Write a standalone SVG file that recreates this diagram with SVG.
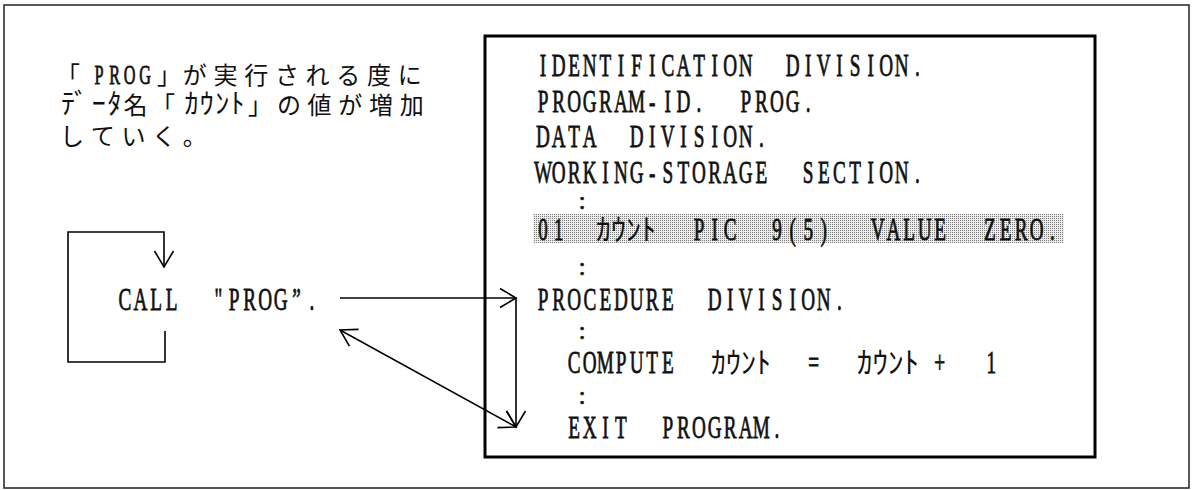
<svg xmlns="http://www.w3.org/2000/svg" width="1192" height="490" viewBox="0 0 1192 490">
  <style>
    .jp { font-family: "Noto Sans CJK JP", sans-serif; font-size: 24px; fill: #111; }
    .kana { font-family: "Noto Sans CJK JP", sans-serif; font-size: 28px; fill: #111; }
    .ck { font-family: "Noto Sans CJK JP", sans-serif; font-size: 30px; fill: #111; }
    .code { font-family: "Liberation Serif", serif; font-size: 32px; fill: #111; stroke: #111; stroke-width: 0.8; text-anchor: middle; }
    .lat { font-family: "Liberation Serif", serif; font-size: 27px; fill: #111; stroke: #111; stroke-width: 0.8; text-anchor: middle; }
    .dots { font-family: "Liberation Serif", serif; font-size: 26px; fill: #111; stroke: #111; stroke-width: 0.6; text-anchor: middle; }
    .frame { fill: none; stroke: #222; stroke-width: 1.5; }
    .box { fill: none; stroke: #000; stroke-width: 3; }
    .wire { fill: none; stroke: #000; stroke-width: 1.6; }
  </style>
  <defs>
    <marker id="open" viewBox="-20 -12 22 24" refX="0" refY="0" markerWidth="22" markerHeight="24" markerUnits="userSpaceOnUse" orient="auto-start-reverse">
      <path d="M -16 -9.5 L 0 0 L -16 9.5" fill="none" stroke="#000" stroke-width="1.6"/>
    </marker>
    <pattern id="screen" width="2" height="2" patternUnits="userSpaceOnUse">
      <rect width="2" height="2" fill="#ededed"/>
      <rect width="1" height="1" fill="#7a7a7a"/>
    </pattern>
  </defs>

  <rect width="1192" height="490" fill="#fff"/>

  <!-- outer frame -->
  <path class="frame" d="M4 5 H1189 V488 H4 Z"/>

  <!-- explanatory note -->
  <g id="note">
    <text class="jp" y="84" x="56">「</text>
    <!-- condensed half-width latin: local x = page x / 0.6 -->
    <g transform="scale(0.6 1)">
      <text class="lat" y="84" x="165 191 216 242">PROG</text>
    </g>
    <text class="jp" y="84" x="157 182.8 213.5 244.2 274.9 305.6 336.3 367 397.7">」が実行される度に</text>
    <text class="kana" y="114" x="61 74 91.7 107.5">ﾃﾞｰﾀ</text>
    <text class="jp" y="114" x="123.4 151">名「</text>
    <text class="kana" y="114" x="184.5 199.8 215.2 230.5">ｶｳﾝﾄ</text>
    <text class="jp" y="114" x="248 276.9 307.6 338.3 369 399.7">」の値が増加</text>
    <text class="jp" y="145" x="60 90.7 121.4 152.1 182.8">していく。</text>
  </g>

  <!-- calling statement (monospaced cells, 26 local units = 15.6 px) -->
  <g id="caller">
    <g transform="scale(0.6 1)">
      <text class="code" y="310" x="208 234 260 286">CALL</text>
      <text class="code" y="310" x="364 390 416 442 468 494 520">"PROG”.</text>
    </g>
  </g>

  <!-- called program source -->
  <g id="program">
    <rect class="box" x="485" y="36" width="610" height="421"/>
    <rect x="533" y="214" width="531" height="29" fill="url(#screen)"/>

    <g transform="scale(0.6 1)">
      <text class="code" y="76" x="905 931 957 983 1009 1035 1061 1087 1113 1139 1165 1191 1217 1243">IDENTIFICATION</text>
      <text class="code" y="76" x="1321 1347 1373 1399 1425 1451 1477 1503 1529">DIVISION.</text>

      <text class="code" y="112" x="905 931 957 983 1009 1035 1061 1087 1113 1139 1165">PROGRAM-ID.</text>
      <text class="code" y="112" x="1243 1269 1295 1321 1347">PROG.</text>

      <text class="code" y="147" x="905 931 957 983">DATA</text>
      <text class="code" y="147" x="1061 1087 1113 1139 1165 1191 1217 1243 1269">DIVISION.</text>

      <text class="code" y="183" x="905 931 957 983 1009 1035 1061 1087 1113 1139 1165 1191 1217 1243 1269">WORKING-STORAGE</text>
      <text class="code" y="183" x="1347 1373 1399 1425 1451 1477 1503 1529">SECTION.</text>

      <text class="code" y="240" x="905 931">01</text>
      <text class="code" y="240" x="1165 1191 1217">PIC</text>
      <text class="code" y="240" x="1295 1321 1347 1373">9(5)</text>
      <text class="code" y="240" x="1463 1489 1515 1541 1567">VALUE</text>
      <text class="code" y="240" x="1650 1676 1702 1728 1754">ZERO.</text>

      <text class="code" y="310" x="905 931 957 983 1009 1035 1061 1087 1113">PROCEDURE</text>
      <text class="code" y="310" x="1191 1217 1243 1269 1295 1321 1347 1373 1399">DIVISION.</text>

      <text class="code" y="373" x="957 983 1009 1035 1061 1087 1113">COMPUTE</text>
      <text class="code" y="373" x="1356">=</text>
      <text class="code" y="373" x="1566">+</text>
      <text class="code" y="373" x="1652">1</text>

      <text class="code" y="438" x="957 983 1009 1035">EXIT</text>
      <text class="code" y="438" x="1113 1139 1165 1191 1217 1243 1269 1295">PROGRAM.</text>
    </g>

    <text class="ck" x="596" y="240" textLength="60" lengthAdjust="spacingAndGlyphs">ｶｳﾝﾄ</text>
    <text class="ck" x="711" y="373" textLength="60" lengthAdjust="spacingAndGlyphs">ｶｳﾝﾄ</text>
    <text class="ck" x="857" y="373" textLength="62" lengthAdjust="spacingAndGlyphs">ｶｳﾝﾄ</text>

    <text class="dots" x="582" y="209">:</text>
    <text class="dots" x="582" y="275">:</text>
    <text class="dots" x="582" y="339">:</text>
    <text class="dots" x="582" y="404">:</text>
  </g>

  <!-- control flow -->
  <g id="connectors">
    <path class="wire" d="M165 331 V362 H68 V232 H164 V267" marker-end="url(#open)"/>
    <path class="wire" d="M340 298 H516" marker-end="url(#open)"/>
    <path class="wire" d="M516 298 V427" marker-end="url(#open)"/>
    <path class="wire" d="M340 330 L516 427" marker-start="url(#open)" marker-end="url(#open)"/>
  </g>
</svg>
